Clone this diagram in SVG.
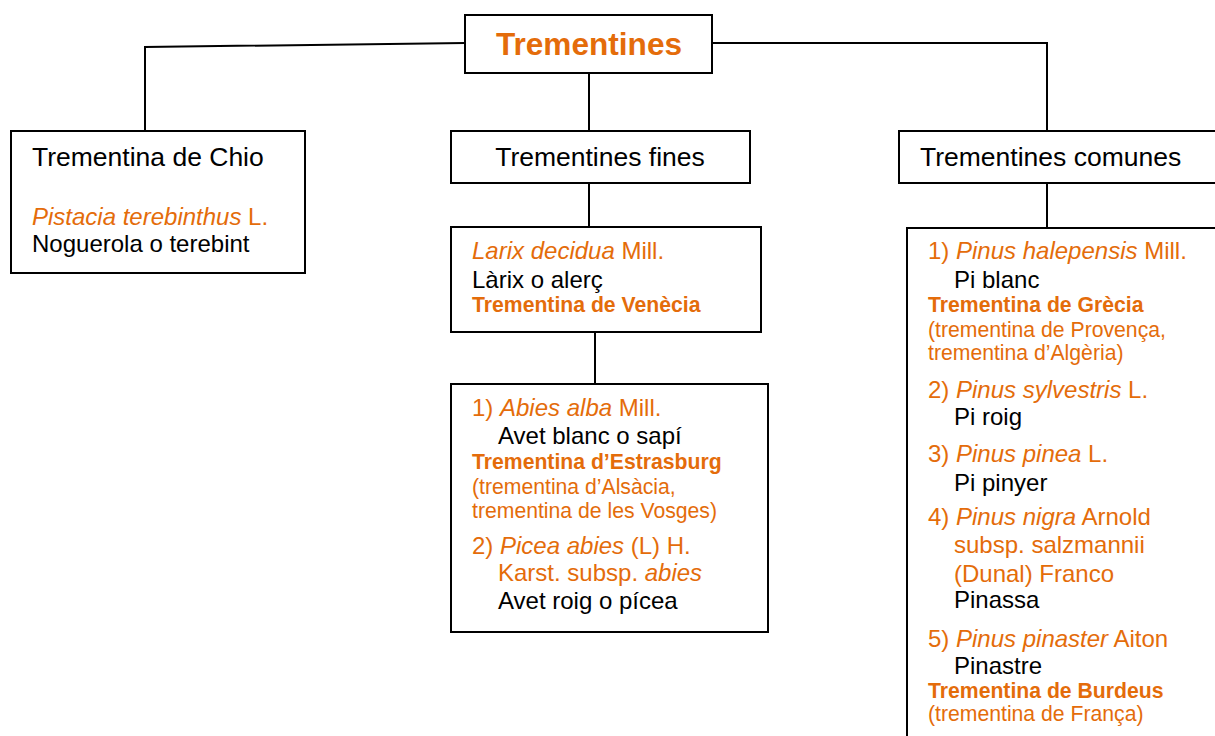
<svg xmlns="http://www.w3.org/2000/svg" width="1215" height="736" viewBox="0 0 1215 736">
  <style>
    .box { fill: #ffffff; stroke: #000000; stroke-width: 2; }
    .link { fill: none; stroke: #000000; stroke-width: 2; }
    text { font-family: "Liberation Sans", Arial, sans-serif; fill: #000000; }
    .head { font-size: 26.5px; }
    .reg { font-size: 24px; }
    .sm { font-size: 21.2px; }
    .or { fill: #E46C0A; }
    .it { font-style: italic; }
    .b { font-weight: bold; }
  </style>

  <!-- connectors -->
  <g id="connectors">
    <polyline class="link" points="465,43 145,47 145,131"/>
    <polyline class="link" points="712,43 1047,43 1047,131"/>
    <line class="link" x1="589" y1="73" x2="589" y2="131"/>
    <line class="link" x1="589" y1="183" x2="589" y2="227"/>
    <line class="link" x1="595" y1="332" x2="595" y2="384"/>
    <line class="link" x1="1047" y1="183" x2="1047" y2="228"/>
  </g>

  <!-- root -->
  <g id="root">
    <rect class="box" x="465" y="15" width="247" height="58"/>
    <text x="589" y="55" text-anchor="middle" class="b or" font-size="31.6">Trementines</text>
  </g>

  <!-- Trementina de Chio -->
  <g id="chio">
    <rect class="box" x="11" y="131" width="294" height="142"/>
    <text x="32" y="166" class="head">Trementina de Chio</text>
    <text x="32" y="225" class="reg or"><tspan class="it">Pistacia terebinthus</tspan> L.</text>
    <text x="32" y="252" class="reg">Noguerola o terebint</text>
  </g>

  <!-- Trementines fines -->
  <g id="fines">
    <rect class="box" x="451" y="131" width="299" height="52"/>
    <text x="600" y="166" text-anchor="middle" class="head">Trementines fines</text>
  </g>

  <!-- Larix -->
  <g id="larix">
    <rect class="box" x="451" y="227" width="310" height="105"/>
    <text x="472" y="259" class="reg or"><tspan class="it">Larix decidua</tspan> Mill.</text>
    <text x="472" y="288" class="reg">Làrix o alerç</text>
    <text x="472" y="312" class="sm b or">Trementina de Venècia</text>
  </g>

  <!-- Abies / Picea -->
  <g id="abies">
    <rect class="box" x="451" y="384" width="317" height="248"/>
    <text x="472" y="416" class="reg or">1) <tspan class="it">Abies alba</tspan> Mill.</text>
    <text x="498" y="444" class="reg">Avet blanc o sapí</text>
    <text x="472" y="469" class="sm b or">Trementina d’Estrasburg</text>
    <text x="472" y="494" class="sm or">(trementina d’Alsàcia,</text>
    <text x="472" y="518" class="sm or">trementina de les Vosges)</text>
    <text x="472" y="554" class="reg or">2) <tspan class="it">Picea abies</tspan> (L) H.</text>
    <text x="498" y="581" class="reg or">Karst. subsp. <tspan class="it">abies</tspan></text>
    <text x="498" y="609" class="reg">Avet roig o pícea</text>
  </g>

  <!-- Trementines comunes -->
  <g id="comunes">
    <rect class="box" x="899" y="131" width="330" height="52"/>
    <text x="920" y="166" class="head">Trementines comunes</text>
  </g>

  <!-- Pinus -->
  <g id="pinus">
    <rect class="box" x="907" y="228" width="330" height="530"/>
    <text x="928" y="259" class="reg or">1) <tspan class="it">Pinus halepensis</tspan> Mill.</text>
    <text x="954" y="288" class="reg">Pi blanc</text>
    <text x="928" y="312" class="sm b or">Trementina de Grècia</text>
    <text x="928" y="337" class="sm or">(trementina de Provença,</text>
    <text x="928" y="360" class="sm or">trementina d’Algèria)</text>
    <text x="928" y="398" class="reg or">2) <tspan class="it">Pinus sylvestris</tspan> L.</text>
    <text x="954" y="425" class="reg">Pi roig</text>
    <text x="928" y="462" class="reg or">3) <tspan class="it">Pinus pinea</tspan> L.</text>
    <text x="954" y="491" class="reg">Pi pinyer</text>
    <text x="928" y="525" class="reg or">4) <tspan class="it">Pinus nigra</tspan> Arnold</text>
    <text x="954" y="553" class="reg or">subsp. salzmannii</text>
    <text x="954" y="582" class="reg or">(Dunal) Franco</text>
    <text x="954" y="608" class="reg">Pinassa</text>
    <text x="928" y="647" class="reg or">5) <tspan class="it">Pinus pinaster</tspan> Aiton</text>
    <text x="954" y="674" class="reg">Pinastre</text>
    <text x="928" y="698" class="sm b or">Trementina de Burdeus</text>
    <text x="928" y="721" class="sm or">(trementina de França)</text>
  </g>
</svg>
